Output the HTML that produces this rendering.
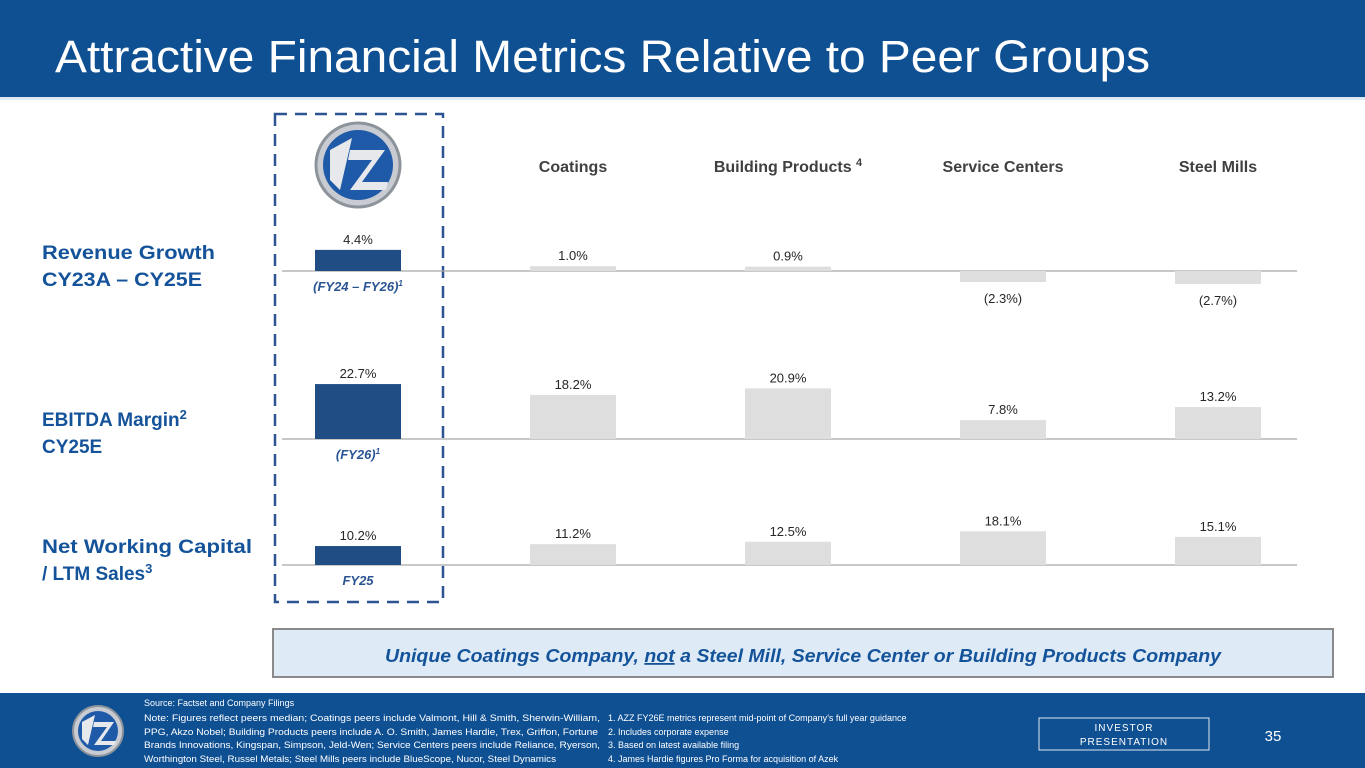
<!DOCTYPE html>
<html><head><meta charset="utf-8"><style>
html,body{margin:0;padding:0;background:#fff;}
svg{display:block;font-family:"Liberation Sans",sans-serif;}
</style></head><body>
<svg width="1365" height="768" viewBox="0 0 1365 768">
<rect x="0" y="0" width="1365" height="97" fill="#0f5093"/>
<rect x="0" y="97" width="1365" height="3" fill="#dfe9f4"/>
<text x="55" y="72" font-size="45" fill="#fff" textLength="1095" lengthAdjust="spacingAndGlyphs">Attractive Financial Metrics Relative to Peer Groups</text>

<rect x="275" y="114" width="168" height="488" fill="none" stroke="#2b5592" stroke-width="2.5" stroke-dasharray="12,8"/>
<g>
<circle cx="358" cy="165" r="42" fill="#c8ccd2" stroke="#8d939b" stroke-width="3"/>
<circle cx="358" cy="165" r="35" fill="#1f5aa8"/>
<path d="M330 150 L352 138 L340 190 L330 180 Z M350 150 L385 150 L362 182 L388 182 L386 190 L350 190 L372 160 L348 160 Z" fill="#e6e8eb"/>
</g>

<g font-weight="bold" font-size="16" fill="#404040" text-anchor="middle">
<text x="573" y="172">Coatings</text>
<text x="788" y="172">Building Products <tspan font-size="11" dy="-6">4</tspan></text>
<text x="1003" y="172">Service Centers</text>
<text x="1218" y="172">Steel Mills</text>
</g>

<g font-weight="bold" font-size="19" fill="#14539a">
<text x="42" y="259" textLength="173" lengthAdjust="spacingAndGlyphs">Revenue Growth</text>
<text x="42" y="286" textLength="160" lengthAdjust="spacingAndGlyphs">CY23A – CY25E</text>
<text x="42" y="426">EBITDA Margin<tspan font-size="13" dy="-7">2</tspan></text>
<text x="42" y="453">CY25E</text>
<text x="42" y="553" textLength="210" lengthAdjust="spacingAndGlyphs">Net Working Capital</text>
<text x="42" y="580">/ LTM Sales<tspan font-size="13" dy="-7">3</tspan></text>
</g>

<g id="chart"></g>

<rect x="273" y="629" width="1060" height="48" fill="#deebf7" stroke="#8a8a8a" stroke-width="2"/>
<text x="803" y="662" font-size="18" font-weight="bold" font-style="italic" fill="#14539a" text-anchor="middle" textLength="836" lengthAdjust="spacingAndGlyphs">Unique Coatings Company, <tspan text-decoration="underline">not</tspan> a Steel Mill, Service Center or Building Products Company</text>

<rect x="0" y="693" width="1365" height="75" fill="#0f5093"/>
<g>
<circle cx="98" cy="731" r="25" fill="#c8ccd2" stroke="#8d939b" stroke-width="2"/>
<circle cx="98" cy="731" r="20" fill="#1f5aa8"/>
<path d="M82 722 L95 715 L88 745 L82 739 Z M94 722 L114 722 L101 741 L116 741 L115 745 L94 745 L107 727 L93 727 Z" fill="#e6e8eb"/>
</g>
<g font-size="9" fill="#fff">
<text x="144" y="706">Source: Factset and Company Filings</text>
<text x="144" y="721" textLength="456" lengthAdjust="spacingAndGlyphs">Note: Figures reflect peers median; Coatings peers include Valmont, Hill &amp; Smith, Sherwin-William,</text>
<text x="144" y="735" textLength="454" lengthAdjust="spacingAndGlyphs">PPG, Akzo Nobel; Building Products peers include A. O. Smith, James Hardie, Trex, Griffon, Fortune</text>
<text x="144" y="748" textLength="456" lengthAdjust="spacingAndGlyphs">Brands Innovations, Kingspan, Simpson, Jeld-Wen; Service Centers peers include Reliance, Ryerson,</text>
<text x="144" y="762" textLength="412" lengthAdjust="spacingAndGlyphs">Worthington Steel, Russel Metals; Steel Mills peers include BlueScope, Nucor, Steel Dynamics</text>
<text x="608" y="721">1.   AZZ FY26E metrics represent mid-point of Company’s full year guidance</text>
<text x="608" y="735">2.   Includes corporate expense</text>
<text x="608" y="748">3.   Based on latest available filing</text>
<text x="608" y="762">4.   James Hardie figures Pro Forma for acquisition of Azek</text>
</g>
<rect x="1039" y="718" width="170" height="32" fill="none" stroke="#dfe6ef" stroke-width="1"/>
<text x="1124" y="731" font-size="10" fill="#fff" text-anchor="middle" letter-spacing="1">INVESTOR</text>
<text x="1124" y="745" font-size="10" fill="#fff" text-anchor="middle" letter-spacing="1">PRESENTATION</text>
<text x="1273" y="741" font-size="15" fill="#fff" text-anchor="middle">35</text>
</svg>
<script>
const categories = ["AZZ","Coatings","Building Products","Service Centers","Steel Mills"];
const revenueGrowth = [4.4, 1.0, 0.9, -2.3, -2.7];
const ebitdaMargin = [22.7, 18.2, 20.9, 7.8, 13.2];
const nwcSales = [10.2, 11.2, 12.5, 18.1, 15.1];
const azzPeriodLabels = ["(FY24 – FY26)", "(FY26)", "FY25"];

const NS = "http://www.w3.org/2000/svg";
const chart = document.getElementById('chart');
const rows = [
  {name:'revenue', vals:revenueGrowth, base:271, scale:4.8},
  {name:'ebitda', vals:ebitdaMargin, base:439, scale:2.42},
  {name:'nwc', vals:nwcSales, base:565, scale:1.86}
];
function xScale(i){ return 315 + i*215; }
const barW = 86;
function fmt(v){ return v<0 ? '(' + Math.abs(v).toFixed(1) + '%)' : v.toFixed(1) + '%'; }
function mk(tag, attrs){ const e=document.createElementNS(NS,tag); for(const k in attrs) e.setAttribute(k, attrs[k]); return e; }
rows.forEach((r, ri) => {
  const line = mk('line',{x1:282,x2:1297,y1:r.base,y2:r.base,stroke:'#a6a6a6','stroke-width':1.2});
  
  
  chart.appendChild(line);
  r.vals.forEach((v, i) => {
    const h = Math.abs(v)*r.scale;
    const y = v>=0 ? r.base - h : r.base;
    const bar = mk('rect',{x:xScale(i),y:y,width:barW,height:h,fill: i===0 ? '#214d85' : '#dedede'});
    
    
    chart.appendChild(bar);
    const ty = v>=0 ? y - 6 : r.base + h + 21;
    const t = mk('text',{x:xScale(i)+barW/2,y:ty,'font-size':13,fill:'#262626','text-anchor':'middle'});
    t.textContent = fmt(v);
    
    
    chart.appendChild(t);
  });
  const p = mk('text',{x:xScale(0)+barW/2,y:r.base+20,'font-size':13,'font-weight':'bold','font-style':'italic',fill:'#2b5592','text-anchor':'middle'});
  p.textContent = azzPeriodLabels[ri];
  if(ri<2){ const s=mk('tspan',{'font-size':8,dy:-5}); s.textContent='1'; p.appendChild(s); }
  
  
  chart.appendChild(p);
});
</script>
</body></html>
